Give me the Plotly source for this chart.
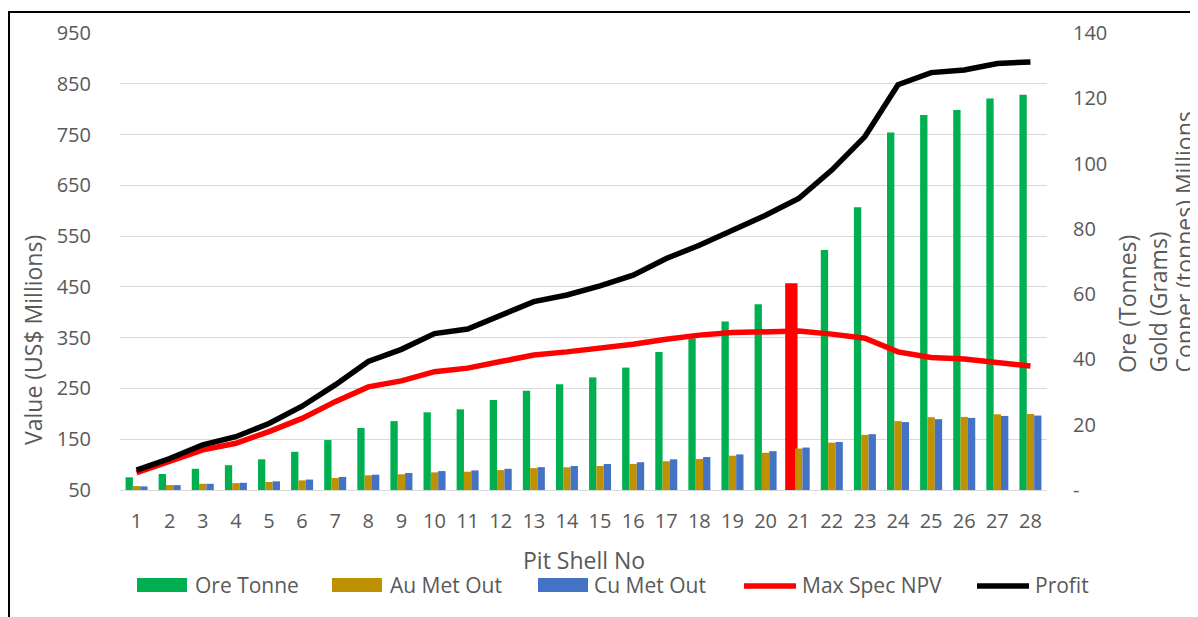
import plotly.graph_objects as go

shells = list(range(1, 29))
ore_tonne = [3.9, 4.9, 6.5, 7.6, 9.4, 11.7, 15.3, 19.0, 21.1, 23.8, 24.7, 27.6, 30.4, 32.4,
             34.5, 37.5, 42.3, 46.5, 51.6, 56.9, 62.6, 73.5, 86.6, 109.5, 114.9, 116.4, 119.9, 121.1]
au_met_out = [1.2, 1.5, 1.9, 2.1, 2.45, 2.95, 3.7, 4.5, 4.8, 5.4, 5.6, 6.1, 6.7, 6.95,
              7.35, 8.0, 8.8, 9.5, 10.5, 11.4, 12.7, 14.5, 16.9, 21.1, 22.3, 22.4, 23.2, 23.3]
cu_met_out = [1.1, 1.5, 1.9, 2.2, 2.65, 3.2, 4.0, 4.7, 5.2, 5.8, 6.0, 6.5, 7.0, 7.35,
              7.97, 8.5, 9.4, 10.1, 10.9, 11.9, 13.0, 14.7, 17.1, 20.8, 21.7, 22.1, 22.7, 22.8]
max_spec_npv = [84, 106, 129, 142, 165, 191, 224, 253, 265, 283, 290, 303, 316, 322,
                329, 337, 347, 355, 360, 362, 363, 357, 349, 322, 311, 308, 300, 294]
profit = [89, 112, 139, 155, 181, 215, 257, 303, 327, 358, 367, 395, 421, 434,
          452, 473, 506, 532, 561, 591, 624, 680, 746, 848, 872, 877, 890, 893]
highlight_shell = 21

left_ticks = list(range(50, 951, 100))
right_tickvals = [0, 20, 40, 60, 80, 100, 120, 140]
right_ticktext = ["-", "20", "40", "60", "80", "100", "120", "140"]

legend_names = ["Ore Tonne", "Au Met Out", "Cu Met Out", "Max Spec NPV", "Profit"]

GREEN = "#00B050"
GOLD = "#BF9000"
BLUE = "#4472C4"
RED = "#FF0000"
BLACK = "#000000"
GREY = "#595959"
GRID = "#D9D9D9"
FONT = "Open Sans, sans-serif"

ore_colors = [RED if s == highlight_shell else GREEN for s in shells]
ore_line_w = [5 if s == highlight_shell else 0 for s in shells]

fig = go.Figure()
fig.add_trace(go.Bar(x=shells, y=ore_tonne, name=legend_names[0], yaxis="y",
                     marker=dict(color=ore_colors, line=dict(color=RED, width=ore_line_w))))
fig.add_trace(go.Bar(x=shells, y=au_met_out, name=legend_names[1], yaxis="y",
                     marker=dict(color=GOLD, line=dict(width=0))))
fig.add_trace(go.Bar(x=shells, y=cu_met_out, name=legend_names[2], yaxis="y",
                     marker=dict(color=BLUE, line=dict(width=0))))
fig.add_trace(go.Scatter(x=shells, y=max_spec_npv, name=legend_names[3], yaxis="y2",
                         mode="lines", line=dict(color=RED, width=5.5)))
fig.add_trace(go.Scatter(x=shells, y=profit, name=legend_names[4], yaxis="y2",
                         mode="lines", line=dict(color=BLACK, width=5.5)))

# page is rendered with an 8px body margin; work in reference-page pixels
OFF = 8
W, H = 1190, 609
L, R, T, B = 112, 151, 25, 127
pw, ph = W - L - R, H - T - B


def px(x):
    return (x - OFF - L) / pw


def py(y):
    return (H - B - (y - OFF)) / ph


tick_font = dict(family=FONT, size=20, color=GREY)


def title_ann(text, x, y, yanchor="middle", size=23, angle=-90):
    return dict(text=text, textangle=angle, xref="paper", yref="paper", x=px(x), y=py(y),
                xanchor="center", yanchor=yanchor, showarrow=False,
                font=dict(family=FONT, size=size, color=GREY))


annotations = [
    title_ann("Value (US$ Millions)", 33, 340),
    title_ann("Ore (Tonnes)", 1127, 375, "bottom"),
    title_ann("Gold (Grams)", 1157, 375, "bottom"),
    title_ann("Copper (tonnes) Millions", 1183, 375, "bottom"),
    title_ann("Pit Shell No", 583.5, 560, size=23, angle=0),
]

# manual legend (wide swatches as in the reference)
legend_y = 585
swatches = [
    ("rect", GREEN, 137, 187, 193),
    ("rect", GOLD, 332, 382, 388),
    ("rect", BLUE, 538, 588, 592),
    ("line", RED, 744, 796, 800),
    ("line", BLACK, 977, 1029, 1033),
]
shapes = []
for (kind, col, x0, x1, tx), name in zip(swatches, legend_names):
    if kind == "rect":
        shapes.append(dict(type="rect", xref="paper", yref="paper",
                           x0=px(x0), x1=px(x1), y0=py(legend_y + 7), y1=py(legend_y - 7),
                           fillcolor=col, line=dict(width=0)))
    else:
        shapes.append(dict(type="line", xref="paper", yref="paper",
                           x0=px(x0), x1=px(x1), y0=py(legend_y + 1), y1=py(legend_y + 1),
                           line=dict(color=col, width=5.5)))
    annotations.append(dict(text=name, xref="paper", yref="paper", x=px(tx), y=py(legend_y),
                            xanchor="left", yanchor="middle", showarrow=False,
                            font=dict(family=FONT, size=21, color=GREY)))

shapes.append(dict(type="rect", xref="paper", yref="paper",
                   x0=px(9), x1=px(1210), y0=py(640), y1=py(12),
                   line=dict(color=BLACK, width=2), fillcolor="rgba(0,0,0,0)", layer="below"))

fig.update_layout(
    width=W, height=H,
    margin=dict(l=L, r=R, t=T, b=B, autoexpand=False),
    paper_bgcolor="white", plot_bgcolor="white",
    barmode="group", bargap=0.335, bargroupgap=0,
    showlegend=False,
    xaxis=dict(range=[0.5, 28.5], tickvals=shells, ticktext=[str(s) for s in shells],
               showgrid=False, zeroline=False, showline=True, linecolor=GRID, linewidth=1,
               ticks="outside", ticklen=13, tickcolor="rgba(0,0,0,0)",
               tickfont=dict(family=FONT, size=20, color=GREY)),
    yaxis=dict(side="right", range=[0, 140], tickvals=right_tickvals, ticktext=right_ticktext,
               showgrid=False, zeroline=False, showline=False,
               ticks="outside", ticklen=21, tickcolor="rgba(0,0,0,0)", tickfont=tick_font),
    yaxis2=dict(side="left", overlaying="y", range=[50, 950], tickvals=left_ticks,
                showgrid=True, gridcolor=GRID, gridwidth=1, zeroline=False, showline=False,
                ticks="outside", ticklen=24, tickcolor="rgba(0,0,0,0)", tickfont=tick_font),
    annotations=annotations,
    shapes=shapes,
)

fig.write_html("out.html")
